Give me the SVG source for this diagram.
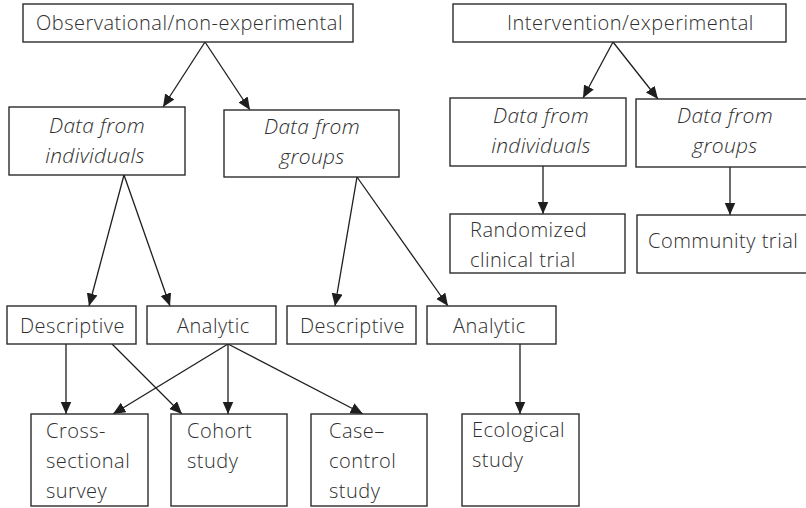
<svg xmlns="http://www.w3.org/2000/svg" width="806" height="508" viewBox="0 0 806 508">
  <style>
    .box { fill: #ffffff; stroke: #2b2b2b; stroke-width: 1.4; }
    .lbl { font-family: "Open Sans", "Noto Sans", "Liberation Sans", sans-serif; font-size: 20px; font-weight: 300; letter-spacing: 0.5px; fill: #2e2e2e; }
    .it { font-style: italic; font-size: 21px; letter-spacing: 0.3px; text-anchor: middle; }
    .edge { stroke: #1e1e1e; stroke-width: 1.3; fill: none; marker-end: url(#head); }
  </style>
  <defs>
    <marker id="head" markerUnits="userSpaceOnUse" markerWidth="14" markerHeight="12" refX="12.5" refY="5.5" orient="auto">
      <path d="M0,0 L12.5,5.5 L0,11 Z" fill="#1e1e1e"/>
    </marker>
  </defs>
  <rect width="806" height="508" fill="#ffffff"/>

  <!-- connectors -->
  <g id="connectors">
    <line class="edge" x1="205" y1="42" x2="163" y2="107"/>
    <line class="edge" x1="205" y1="42" x2="250" y2="110"/>
    <line class="edge" x1="613" y1="42" x2="583" y2="98"/>
    <line class="edge" x1="613" y1="42" x2="658" y2="99"/>
    <line class="edge" x1="124" y1="175" x2="89" y2="306"/>
    <line class="edge" x1="124" y1="175" x2="170" y2="306"/>
    <line class="edge" x1="357" y1="177" x2="335" y2="306"/>
    <line class="edge" x1="357" y1="177" x2="448" y2="306"/>
    <line class="edge" x1="543" y1="166" x2="543" y2="214"/>
    <line class="edge" x1="730" y1="167" x2="730" y2="215"/>
    <line class="edge" x1="66" y1="344" x2="66" y2="414"/>
    <line class="edge" x1="112" y1="344" x2="182" y2="414"/>
    <line class="edge" x1="228" y1="344" x2="113" y2="414"/>
    <line class="edge" x1="228" y1="344" x2="228" y2="414"/>
    <line class="edge" x1="228" y1="344" x2="363" y2="414"/>
    <line class="edge" x1="520" y1="344" x2="520" y2="414"/>
  </g>

  <!-- observational branch -->
  <g id="observational">
    <rect class="box" x="23" y="4" width="330" height="38"/>
    <text class="lbl" x="36" y="30">Observational/non-experimental</text>
  </g>
  <g id="obs-individuals">
    <rect class="box" x="9" y="107" width="176" height="68"/>
    <text class="lbl it" x="97" y="133">Data from</text>
    <text class="lbl it" x="95" y="163">individuals</text>
  </g>
  <g id="obs-groups">
    <rect class="box" x="224" y="110" width="175" height="67"/>
    <text class="lbl it" x="312" y="134">Data from</text>
    <text class="lbl it" x="312" y="164">groups</text>
  </g>
  <g id="ind-descriptive">
    <rect class="box" x="7" y="306" width="129" height="38"/>
    <text class="lbl" x="20" y="333">Descriptive</text>
  </g>
  <g id="ind-analytic">
    <rect class="box" x="147" y="306" width="129" height="38"/>
    <text class="lbl" x="177" y="333">Analytic</text>
  </g>
  <g id="grp-descriptive">
    <rect class="box" x="287" y="306" width="129" height="38"/>
    <text class="lbl" x="300" y="333">Descriptive</text>
  </g>
  <g id="grp-analytic">
    <rect class="box" x="427" y="306" width="129" height="38"/>
    <text class="lbl" x="453" y="333">Analytic</text>
  </g>
  <g id="cross-sectional">
    <rect class="box" x="31" y="414" width="117" height="92"/>
    <text class="lbl" x="46" y="438">Cross-</text>
    <text class="lbl" x="46" y="468">sectional</text>
    <text class="lbl" x="46" y="498">survey</text>
  </g>
  <g id="cohort">
    <rect class="box" x="171" y="414" width="116" height="92"/>
    <text class="lbl" x="187" y="438">Cohort</text>
    <text class="lbl" x="187" y="468">study</text>
  </g>
  <g id="case-control">
    <rect class="box" x="311" y="414" width="116" height="92"/>
    <text class="lbl" x="329" y="438">Case–</text>
    <text class="lbl" x="329" y="468">control</text>
    <text class="lbl" x="329" y="498">study</text>
  </g>
  <g id="ecological">
    <rect class="box" x="462" y="414" width="117" height="92"/>
    <text class="lbl" x="472" y="437">Ecological</text>
    <text class="lbl" x="472" y="467">study</text>
  </g>

  <!-- intervention branch -->
  <g id="intervention">
    <rect class="box" x="453" y="4" width="333" height="38"/>
    <text class="lbl" x="507" y="30">Intervention/experimental</text>
  </g>
  <g id="int-individuals">
    <rect class="box" x="450" y="98" width="176" height="68"/>
    <text class="lbl it" x="541" y="123">Data from</text>
    <text class="lbl it" x="541" y="153">individuals</text>
  </g>
  <g id="int-groups">
    <rect class="box" x="636" y="99" width="180" height="68"/>
    <text class="lbl it" x="725" y="123">Data from</text>
    <text class="lbl it" x="725" y="153">groups</text>
  </g>
  <g id="randomized">
    <rect class="box" x="450" y="214" width="175" height="59"/>
    <text class="lbl" x="470" y="237">Randomized</text>
    <text class="lbl" x="470" y="267">clinical trial</text>
  </g>
  <g id="community">
    <rect class="box" x="637" y="215" width="180" height="58"/>
    <text class="lbl" x="648" y="248">Community trial</text>
  </g>
</svg>
